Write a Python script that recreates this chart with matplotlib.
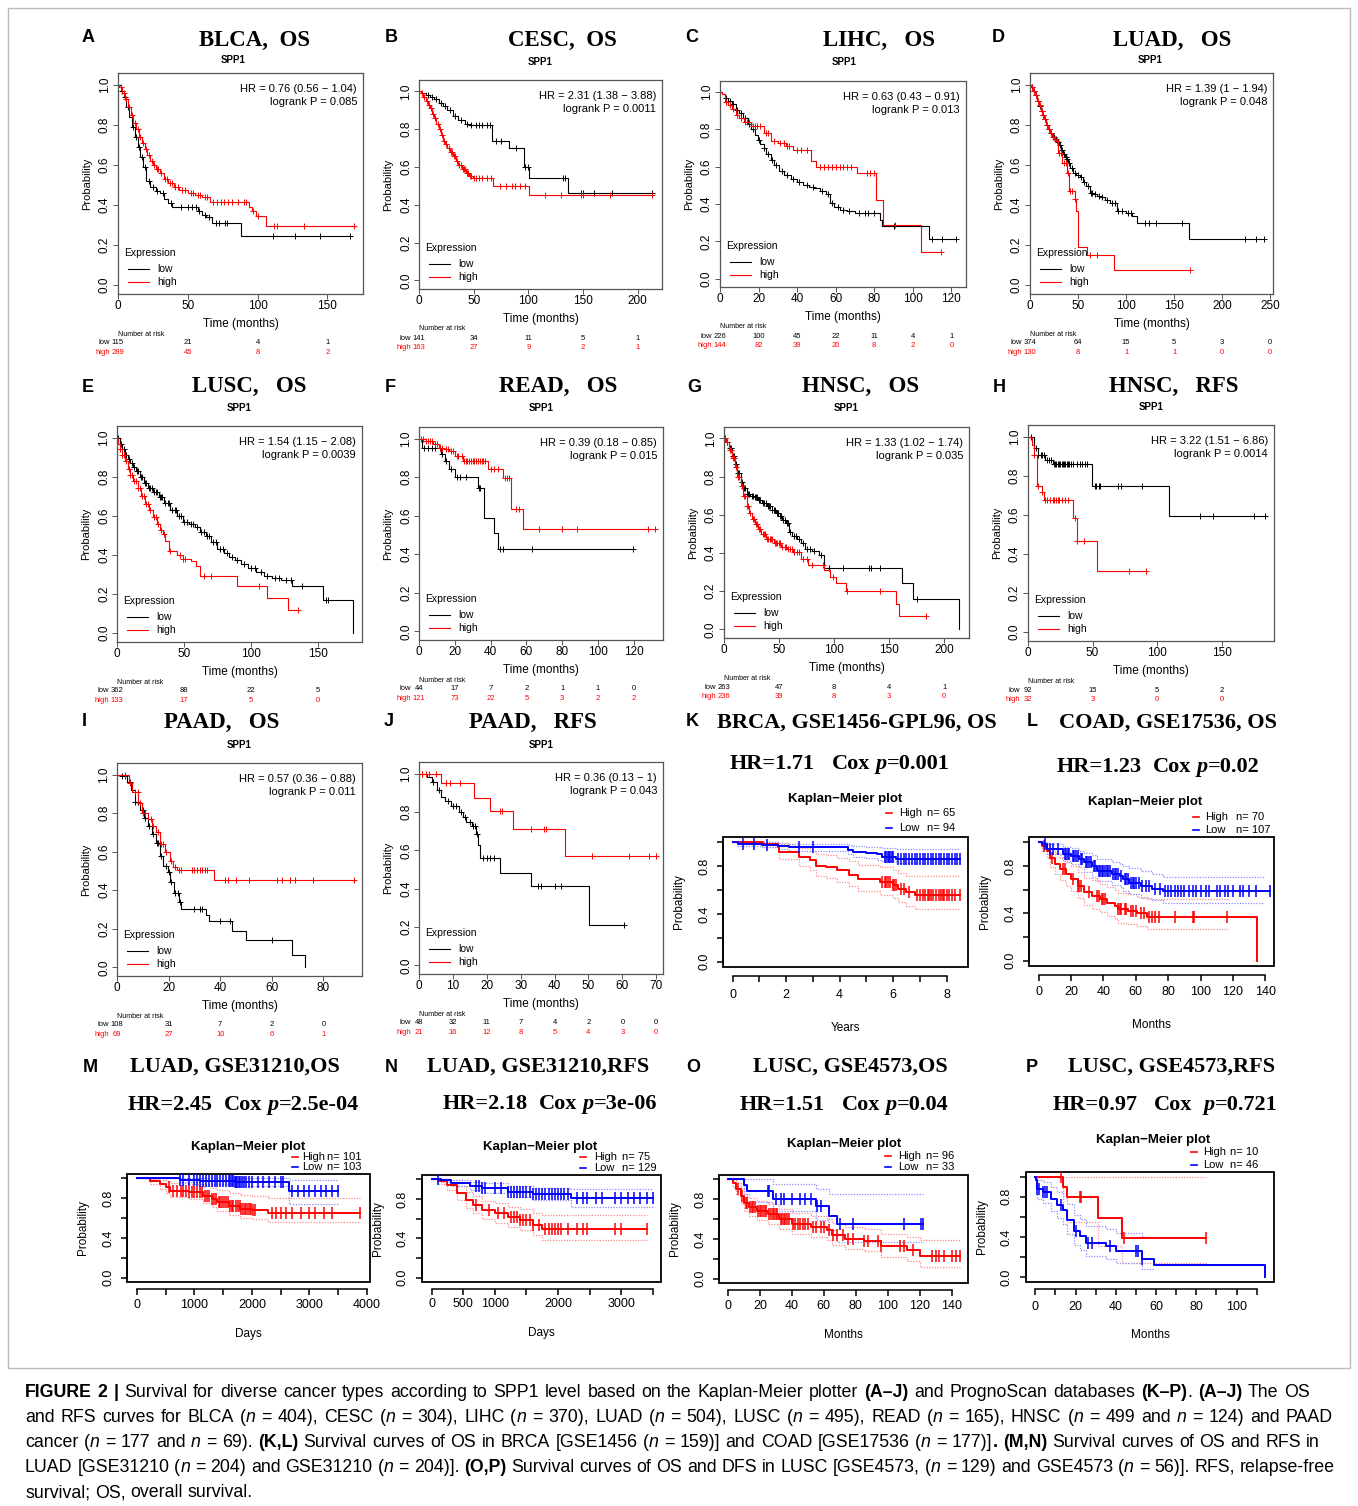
import re
import numpy as np
import matplotlib
matplotlib.use("Agg")
import matplotlib.pyplot as plt
from matplotlib.lines import Line2D
from matplotlib.patches import Rectangle

W, H = 1358, 1506
SANS = ["Liberation Sans", "DejaVu Sans"]
SERIF = ["Liberation Serif", "DejaVu Serif"]
RED, BLUE = "#ff0000", "#0000ff"

# ---------------- KM plotter panels (A-J) ----------------
# step times (months), survival after each step, end of follow-up, censored times
a_low_t = [2, 4, 6, 8, 10, 12, 14, 16, 18, 20, 23, 27, 30, 33, 36, 39, 57, 60, 63, 67, 88]
a_low_s = [.97, .94, .89, .84, .79, .74, .69, .64, .59, .52, .49, .47, .46, .43, .41, .39, .37, .35, .34, .31, .245]
a_low_end = 166
a_low_cens = [3, 5, 7, 11, 13, 15, 17, 19, 22, 25, 28, 32, 38, 45, 50, 53, 56, 58, 62, 65, 70, 72, 77, 78, 111, 127, 145, 166]
a_high_t = [1, 3, 5, 7, 9, 11, 13, 15, 17, 19, 21, 23, 25, 27, 30, 33, 36, 40, 44, 50, 55, 60, 66, 94, 96, 99, 106]
a_high_s = [.99, .96, .93, .89, .85, .81, .78, .74, .71, .68, .65, .62, .60, .58, .56, .53, .51, .49, .475, .46, .45, .44, .415, .39, .37, .345, .295]
a_high_end = 169
a_high_cens = [2, 4, 6, 8, 10, 12, 14, 16, 18, 20, 22, 24, 26, 28, 29, 31, 34, 35, 37, 39, 41, 43, 46, 48, 52, 54, 57, 59,
               62, 64, 68, 71, 74, 76, 79, 82, 86, 90, 92, 97, 100, 112, 114, 133, 169]
a_ticks = [0, 50, 100, 150]
a_risk_low = [115, 21, 4, 1]
a_risk_high = [289, 45, 8, 2]
a_hr = ["HR = 0.76 (0.56 \u2212 1.04)", "logrank P = 0.085"]

b_low_t = [3, 6, 10, 14, 18, 22, 26, 31, 36, 42, 47, 66.5, 82.5, 96, 101, 136.6]
b_low_s = [.99, .98, .97, .96, .94, .92, .90, .87, .85, .83, .82, .74, .70, .60, .54, .465]
b_low_end = 215
b_low_cens = [8, 12, 16, 20, 24, 28, 33, 38, 44, 48, 52, 55, 58, 62, 65, 70, 75, 89, 97, 100, 132, 134, 148, 150, 160, 177, 213]
b_high_t = [2, 4, 6, 8, 10, 12, 14, 16, 18, 20, 22, 24, 26, 28, 31, 34, 36, 39, 43, 46, 49, 68, 101]
b_high_s = [.99, .97, .95, .93, .91, .88, .86, .83, .80, .77, .74, .72, .70, .68, .66, .63, .61, .59, .57, .555, .54, .50, .45]
b_high_end = 213
b_high_cens = [3, 5, 7, 9, 11, 13, 15, 17, 19, 21, 23, 25, 27, 29, 30, 32, 33, 35, 37, 38, 40, 41, 42, 44, 45, 47, 48,
               50, 52, 55, 58, 62, 66, 74, 80, 85, 88, 92, 97, 115, 130, 148, 150, 175, 213]
b_ticks = [0, 50, 100, 150, 200]
b_risk_low = [141, 34, 11, 5, 1]
b_risk_high = [163, 27, 9, 2, 1]
b_hr = ["HR = 2.31 (1.38 \u2212 3.88)", "logrank P = 0.0011"]

c_low_t = [1, 2.4, 4, 6, 8.5, 10, 12, 14.5, 16, 18, 19.6, 21, 22.6, 24, 26.7, 28, 30.7, 33, 36.8, 40, 43, 46, 49, 52,
           55, 57, 59, 62, 66, 70, 83, 84, 108.5]
c_low_s = [.99, .97, .955, .935, .906, .89, .86, .83, .80, .77, .745, .72, .70, .67, .635, .61, .575, .555, .535, .52,
           .50, .49, .485, .47, .455, .405, .385, .37, .36, .35, .315, .28, .21]
c_low_end = 122.6
c_low_cens = [3, 5, 7, 9, 11, 13, 15, 17, 20, 23, 25, 27, 29, 32, 35, 38, 41, 45, 48, 53, 56, 58, 61, 64, 67, 72, 75, 77,
              80, 90, 110, 115, 122.6]
c_high_t = [1, 2.4, 4, 6, 8.5, 10, 12.5, 16, 22.6, 26.7, 30, 34, 37.8, 47, 50, 71, 81, 84.6, 104.4]
c_high_s = [.99, .95, .93, .91, .88, .86, .84, .82, .78, .74, .73, .71, .69, .63, .60, .565, .42, .285, .143]
c_high_end = 114.5
c_high_cens = [3, 5, 7, 9, 11, 13, 14, 15, 17, 18, 19, 21, 24, 25, 28, 31, 33, 35, 36, 40, 42, 45, 52, 54, 56, 58, 60,
               62, 64, 66, 68, 76, 78, 80, 91, 114.5]
c_ticks = [0, 20, 40, 60, 80, 100, 120]
c_risk_low = [226, 100, 45, 22, 11, 4, 1]
c_risk_high = [144, 82, 39, 20, 8, 2, 0]
c_hr = ["HR = 0.63 (0.43 \u2212 0.91)", "logrank P = 0.013"]

d_low_t = [1, 3, 5, 7, 9, 11, 13, 15, 17, 19, 21, 24, 26, 28, 30, 32, 34, 36, 38, 40, 42, 45, 48, 52, 55, 58, 62.5,
           66, 70, 73, 78, 83, 90, 100, 106, 111, 165]
d_low_s = [.99, .97, .95, .92, .895, .87, .85, .83, .80, .78, .76, .74, .73, .715, .70, .675, .655, .64, .63, .61,
           .585, .56, .55, .54, .515, .495, .46, .455, .445, .44, .425, .41, .37, .36, .345, .31, .23]
d_low_end = 243
d_low_cens = [2, 4, 6, 8, 10, 12, 14, 16, 18, 20, 22, 25, 27, 29, 31, 33, 35, 37, 39, 41, 44, 47, 50, 53, 56, 60, 63,
              65, 68, 72, 75, 80, 85, 88, 92, 96, 102, 105, 120, 124, 131, 158, 224, 235, 243]
d_high_t = [1, 3, 5, 7, 9, 11, 13, 15, 17, 19, 21, 23, 25, 27, 29.5, 33, 38, 41, 46.5, 48, 50.3, 59, 87.5]
d_high_s = [.99, .97, .95, .92, .90, .87, .85, .83, .80, .78, .76, .74, .73, .72, .66, .61, .56, .47, .43, .37, .19,
            .15, .074]
d_high_end = 166.7
d_high_cens = [2, 4, 6, 8, 10, 12, 14, 16, 18, 20, 22, 24, 26, 28, 30, 32, 35, 37, 40, 42, 44, 47, 62, 70, 166.7]
d_ticks = [0, 50, 100, 150, 200, 250]
d_risk_low = [374, 64, 15, 5, 3, 0]
d_risk_high = [130, 8, 1, 1, 0, 0]
d_hr = ["HR = 1.39 (1 \u2212 1.94)", "logrank P = 0.048"]

e_low_t = [2, 4, 6, 8, 10, 12, 14, 17, 20, 23, 27, 31.5, 35, 40, 45, 49, 54, 58, 62, 66.5, 70, 75, 80, 84, 88, 93, 98,
           104, 110, 116, 123, 131, 154, 176.8]
e_low_s = [.97, .94, .91, .89, .87, .85, .83, .80, .77, .745, .72, .695, .665, .63, .60, .57, .56, .545, .52, .495,
           .465, .43, .41, .39, .375, .355, .335, .314, .295, .28, .27, .24, .17, 0]
e_low_end = 176.8
e_low_cens = [1, 3, 5, 7, 9, 11, 13, 15, 16, 18, 19, 21, 22, 24, 25, 26, 28, 29, 30, 32, 33, 34, 36, 38, 39, 41, 43, 44,
              46, 48, 50, 52, 55, 57, 60, 63, 65, 67, 69, 72, 74, 77, 79, 82, 86, 90, 95, 100, 103, 108, 112, 118,
              121, 126, 130, 138, 156, 158]
e_high_t = [1, 2, 3.8, 6, 8, 9.6, 12, 15.5, 18, 21, 24, 27, 30, 32, 34.4, 36, 38.8, 45, 49, 55, 59, 62, 89.5, 112, 128]
e_high_s = [.97, .94, .91, .88, .84, .81, .78, .745, .70, .66, .63, .595, .56, .53, .51, .47, .42, .40, .38, .37, .345,
            .294, .24, .18, .12]
e_high_end = 135
e_high_cens = [2, 4, 5, 7, 9, 10, 11, 13, 14, 16, 17, 19, 20, 22, 23, 25, 28, 29, 31, 33, 35, 40, 47, 49, 51, 65, 70,
               106, 135]
e_ticks = [0, 50, 100, 150]
e_risk_low = [362, 88, 22, 5]
e_risk_high = [133, 17, 5, 0]
e_hr = ["HR = 1.54 (1.15 \u2212 2.08)", "logrank P = 0.0039"]

f_low_t = [1.5, 12.4, 14.6, 16.7, 20, 33, 36.3, 41.7, 44]
f_low_s = [.95, .92, .886, .844, .80, .743, .59, .51, .425]
f_low_end = 119.6
f_low_cens = [3, 5, 7, 9, 12, 13, 15, 18, 21, 23, 26, 33.5, 34, 45, 47, 63, 119.6]
f_high_t = [3.7, 8, 11.3, 14, 16.7, 20, 24.3, 38.5, 47.2, 51.5, 58]
f_high_s = [.987, .97, .953, .945, .936, .91, .886, .844, .794, .635, .53]
f_high_end = 132
f_high_cens = [1, 2, 4, 5, 6, 7, 9, 10, 12, 13, 15, 16, 18, 19, 21, 22, 24, 25, 26, 27, 28, 29, 30, 31, 32, 33, 34, 35,
               36, 37, 40, 42, 44, 48, 49, 50, 54, 56, 67, 80, 88, 128, 132]
f_ticks = [0, 20, 40, 60, 80, 100, 120]
f_risk_low = [44, 17, 7, 2, 1, 1, 0]
f_risk_high = [121, 73, 22, 5, 3, 2, 2]
f_hr = ["HR = 0.39 (0.18 \u2212 0.85)", "logrank P = 0.015"]

g_low_t = [2, 4.6, 7, 10, 12, 15, 17, 20.5, 24, 27.5, 31, 34.6, 39, 43.5, 47, 50.5, 53, 56, 59, 62, 66.4, 70, 73.5,
           80, 86, 91, 161.8, 172, 213.8]
g_low_s = [.98, .95, .91, .867, .82, .77, .74, .71, .70, .695, .68, .66, .645, .627, .61, .593, .575, .559, .508, .49,
           .474, .45, .422, .41, .388, .32, .243, .157, 0]
g_low_end = 213.8
g_low_cens = [1, 3, 5, 6, 8, 9, 11, 13, 14, 16, 18, 19, 21, 22, 23, 25, 26, 28, 29, 30, 32, 33, 35, 36, 38, 40, 41, 42,
              44, 45, 46, 48, 49, 51, 52, 54, 55, 57, 58, 60, 64, 65, 68, 72, 75, 78, 82, 88, 95, 108, 132, 134, 142,
              175]
g_high_t = [2, 4.6, 7, 10, 12, 15, 17, 20.5, 23, 25.8, 28, 31, 34, 38, 45, 52, 57, 63, 70, 76.7, 91, 96.5, 102, 110.6,
            156.6, 159.4]
g_high_s = [.98, .94, .90, .85, .80, .75, .70, .644, .61, .576, .55, .525, .50, .474, .45, .43, .42, .405, .371, .337,
            .311, .277, .243, .20, .132, .068]
g_high_end = 183.7
g_high_cens = [1, 3, 5, 6, 8, 9, 11, 13, 14, 16, 18, 19, 21, 22, 24, 26, 27, 29, 30, 32, 33, 35, 36, 37, 39, 40, 42, 43,
               44, 46, 47, 48, 50, 51, 53, 55, 56, 58, 60, 62, 64, 66, 68, 72, 75, 80, 90, 99, 112, 142, 183.7]
g_ticks = [0, 50, 100, 150, 200]
g_risk_low = [263, 47, 8, 4, 1]
g_risk_high = [236, 39, 8, 3, 0]
g_hr = ["HR = 1.33 (1.02 \u2212 1.74)", "logrank P = 0.035"]

h_low_t = [4.5, 7.5, 13.5, 19.6, 49.7, 109.3]
h_low_s = [.94, .905, .883, .858, .747, .597]
h_low_end = 183.7
h_low_cens = [2, 6, 8, 10, 11, 12, 15, 16, 18, 20, 21, 22, 23, 24, 25, 26, 27, 28, 29, 30, 31, 32, 33, 35, 38, 40, 42,
              44, 46, 52, 53, 55, 56, 70, 72, 88, 133, 143, 175, 183.7]
h_high_t = [3, 4.5, 6.9, 10.5, 12, 35, 37.6, 53.3]
h_high_s = [.958, .908, .75, .717, .678, .583, .467, .312]
h_high_end = 91
h_high_cens = [5, 8, 11, 13, 15, 17, 19, 20, 22, 23, 24, 26, 29, 31, 36, 38, 43, 78, 91]
h_ticks = [0, 50, 100, 150]
h_risk_low = [92, 15, 5, 2]
h_risk_high = [32, 3, 0, 0]
h_hr = ["HR = 3.22 (1.51 \u2212 6.86)", "logrank P = 0.0014"]

i_low_t = [1.5, 3.8, 5.3, 6.8, 9, 10.6, 12, 13.6, 15, 16.6, 18, 19.6, 20.4, 22, 24, 25, 34.7, 35.5, 44.5, 50, 68, 73]
i_low_s = [.99, .963, .92, .86, .818, .775, .733, .69, .647, .579, .528, .494, .443, .383, .34, .30, .273, .24, .187,
           .14, .065, 0]
i_low_end = 73
i_low_cens = [2, 3, 5, 7, 8, 10, 11, 12.5, 14, 15.5, 16, 17, 19, 20, 21, 22.5, 23.5, 24.5, 30, 32, 33, 40, 44, 60]
i_high_t = [4.5, 6, 8.3, 9.8, 12, 13.6, 15, 16.6, 18.8, 20.4, 21.9, 23.4, 37.7]
i_high_s = [.954, .91, .85, .80, .767, .733, .70, .64, .596, .554, .52, .503, .455]
i_high_end = 92
i_high_cens = [3, 5, 7, 8, 9, 10, 11, 13, 14, 16, 17, 18, 19, 21, 22.5, 24, 25, 29, 30, 31, 32, 33, 34, 35, 42, 43, 46,
               51, 62, 64, 67, 69, 76, 92]
i_ticks = [0, 20, 40, 60, 80]
i_risk_low = [108, 31, 7, 2, 0]
i_risk_high = [69, 27, 10, 6, 1]
i_hr = ["HR = 0.57 (0.36 \u2212 0.88)", "logrank P = 0.011"]

j_low_t = [2.5, 3.7, 5.4, 6.6, 7.7, 9.4, 11.7, 12.9, 14, 15.7, 16.9, 17.5, 18, 23.8, 33, 50.2]
j_low_s = [.983, .958, .915, .88, .856, .83, .797, .771, .746, .725, .686, .627, .56, .483, .415, .208]
j_low_end = 60.6
j_low_cens = [1, 4, 6, 8.5, 10, 11, 12.5, 13.5, 15, 16, 16.5, 17, 19, 20, 21, 22, 35, 36, 40, 42, 60.6]
j_high_t = [6.6, 16.3, 20.9, 27.8, 43]
j_high_s = [.95, .873, .805, .712, .571]
j_high_end = 69.8
j_high_cens = [1, 2, 3, 5, 8, 9, 12, 24, 24.5, 33, 37, 37.5, 51, 62, 68, 69.8]
j_ticks = [0, 10, 20, 30, 40, 50, 60, 70]
j_risk_low = [48, 32, 11, 7, 4, 2, 0, 0]
j_risk_high = [21, 16, 12, 8, 5, 4, 3, 0]
j_hr = ["HR = 0.36 (0.13 \u2212 1)", "logrank P = 0.043"]

# ---------------- PrognoScan panels (K-P) ----------------
k_high_t = [1.15, 1.7, 1.75, 2.5, 2.9, 3.1, 3.5, 3.9, 4.35, 4.7, 5.5, 6.0, 6.2, 6.5, 6.8]
k_high_s = [.987, .96, .92, .876, .85, .806, .793, .765, .73, .695, .667, .64, .61, .58, .56]
k_high_up = [1.0, 1.0, .985, .95, .93, .90, .89, .865, .84, .81, .79, .77, .74, .72, .715]
k_high_lo = [.96, .92, .86, .80, .77, .72, .70, .67, .63, .59, .56, .53, .50, .47, .44]
k_high_end = 8.5
k_high_cens = [5.6, 5.7, 5.75, 5.8, 5.9, 6.0, 6.05, 6.1, 6.3, 6.4, 6.6, 6.9, 7.0, 7.1, 7.2, 7.3, 7.35, 7.4, 7.5, 7.6,
               7.7, 7.8, 7.85, 7.9, 8.0, 8.1, 8.2, 8.3, 8.5]
k_low_t = [0.2, 1.1, 1.7, 2.1, 4.3, 4.5, 5.0, 5.4, 5.6, 6.1]
k_low_s = [.99, .98, .97, .957, .94, .92, .91, .90, .876, .86]
k_low_up = [1.0, 1.0, .995, .99, .98, .97, .965, .96, .95, .945]
k_low_lo = [.97, .96, .945, .925, .905, .88, .865, .855, .84, .83]
k_low_end = 8.5
k_low_cens = [0.4, 0.8, 1.3, 2.5, 3.0, 5.7, 5.75, 5.8, 5.85, 5.9, 5.95, 6.0, 6.2, 6.3, 6.4, 6.5, 6.6, 6.7, 6.8, 6.9,
              7.0, 7.1, 7.2, 7.3, 7.4, 7.5, 7.6, 7.7, 7.8, 7.9, 8.0, 8.1, 8.2, 8.3, 8.4, 8.5]
k_n = [65, 94]

l_high_t = [2, 5, 7, 10, 13, 17, 20, 24, 28, 33, 38, 42, 47, 49, 55, 61, 67, 134.5]
l_high_s = [.97, .93, .87, .82, .775, .73, .69, .634, .577, .55, .52, .49, .465, .437, .423, .40, .372, 0]
l_high_up = [1.0, .99, .95, .91, .87, .83, .80, .75, .70, .68, .65, .62, .60, .57, .56, .54, .52, .52]
l_high_lo = [.93, .87, .79, .73, .68, .63, .59, .53, .47, .44, .41, .38, .35, .32, .31, .29, .27, .27]
l_high_end = 134.5
l_high_cens = [3, 8, 15, 16, 21, 24, 25, 26, 31, 36, 37, 39, 40, 41, 49, 50, 51, 53, 54, 57, 58, 60, 63, 65, 68, 70,
               72, 74, 84, 95, 96, 116]
l_low_t = [2, 5, 15, 20, 25, 28, 33, 36, 45, 50, 52, 56, 63, 70, 77]
l_low_s = [.985, .944, .90, .887, .86, .83, .80, .76, .73, .718, .69, .66, .634, .605, .586]
l_low_up = [1.0, .99, .96, .95, .93, .91, .89, .86, .83, .82, .80, .78, .76, .73, .71]
l_low_lo = [.96, .90, .84, .82, .79, .75, .71, .67, .64, .62, .59, .56, .53, .51, .49]
l_low_end = 143
l_low_cens = [4, 7, 9, 12, 16, 17, 18, 19, 21, 22, 23, 24, 26, 27, 29, 30, 31, 32, 34, 35, 37, 38, 39, 40, 41, 42, 43,
              44, 46, 47, 48, 49, 51, 53, 54, 55, 57, 58, 59, 60, 62, 64, 66, 68, 72, 75, 78, 80, 82, 84, 86, 88, 90,
              93, 95, 97, 100, 103, 105, 110, 112, 115, 117, 120, 124, 126, 130, 134, 143]
l_n = [70, 107]

m_high_t = [230, 400, 500, 580, 900, 1150, 1300, 1400, 1600, 1800, 2000, 2280]
m_high_s = [.97, .943, .91, .877, .86, .827, .793, .76, .727, .693, .683, .653]
m_high_up = [.995, .985, .97, .955, .94, .92, .90, .88, .855, .83, .82, .80]
m_high_lo = [.94, .89, .85, .81, .79, .75, .71, .67, .63, .60, .59, .56]
m_high_end = 3880
m_high_cens = [560, 620, 700, 760, 800, 850, 900, 950, 1000, 1050, 1100, 1130, 1180, 1220, 1260, 1300, 1340, 1380, 1420,
               1450, 1480, 1520, 1550, 1580, 1620, 1650, 1680, 1720, 1760, 1790, 1820, 1850, 1880, 1900, 1930, 1960,
               1990, 2020, 2050, 2350, 2420, 2500, 2600, 2700, 2850, 3000, 3100, 3250, 3400, 3880]
m_low_t = [750, 1100, 1700, 2650]
m_low_s = [.987, .977, .96, .877]
m_low_up = [1.0, 1.0, 1.0, .98]
m_low_lo = [.96, .945, .92, .74]
m_low_end = 3500
m_low_cens = [750, 800, 900, 1000, 1050, 1100, 1150, 1200, 1250, 1300, 1350, 1400, 1450, 1500, 1550, 1600, 1620, 1650,
              1680, 1700, 1720, 1750, 1780, 1800, 1830, 1860, 1900, 1950, 2000, 2100, 2200, 2300, 2400, 2500, 2550,
              2700, 2800, 2900, 3000, 3100, 3200, 3300, 3400, 3500]
m_n = [101, 103]

n_high_t = [100, 250, 400, 550, 650, 800, 1000, 1200, 1400, 1600, 1750]
n_high_s = [.98, .94, .86, .79, .74, .69, .66, .62, .59, .54, .50]
n_high_up = [1.0, .99, .93, .87, .83, .78, .76, .72, .70, .66, .64]
n_high_lo = [.95, .89, .79, .71, .66, .60, .56, .52, .48, .43, .38]
n_high_end = 3400
n_high_cens = [700, 900, 1050, 1150, 1250, 1300, 1350, 1400, 1450, 1500, 1550, 1600, 1700, 1800, 1850, 1900, 1950, 2000,
               2050, 2150, 2300, 2400, 2450, 2900, 3000, 3400]
n_low_t = [150, 300, 600, 800, 1200, 1600, 2200]
n_low_s = [.99, .96, .93, .91, .87, .85, .81]
n_low_up = [1.0, .99, .97, .96, .93, .91, .90]
n_low_lo = [.97, .93, .89, .86, .82, .79, .72]
n_low_end = 3500
n_low_cens = [100, 700, 750, 800, 850, 1000, 1100, 1200, 1250, 1300, 1350, 1400, 1450, 1500, 1550, 1600, 1650, 1700,
              1750, 1800, 1850, 1900, 1950, 2000, 2050, 2100, 2150, 2300, 2400, 2450, 2600, 2700, 2900, 3000, 3100,
              3200, 3300, 3400, 3500]
n_n = [75, 129]

o_high_t = [3, 5, 8, 10, 13, 18, 25, 32, 40, 52, 62, 65, 73, 85, 96, 112, 120]
o_high_s = [.96, .90, .83, .765, .717, .684, .65, .60, .55, .52, .49, .44, .40, .38, .326, .29, .228]
o_high_up = [1.0, .96, .91, .85, .81, .78, .75, .70, .66, .63, .60, .56, .52, .50, .45, .42, .39]
o_high_lo = [.92, .84, .75, .68, .63, .59, .55, .50, .45, .42, .39, .34, .30, .28, .22, .18, .12]
o_high_end = 145
o_high_cens = [6, 9, 11, 12, 14, 15, 16, 17, 19, 20, 21, 22, 23, 24, 26, 27, 28, 29, 30, 31, 33, 34, 35, 36, 37, 38, 41,
               42, 44, 45, 47, 48, 50, 53, 55, 58, 60, 63, 66, 68, 72, 75, 78, 85, 88, 94, 96, 108, 110, 116, 128, 130,
               132, 135, 140, 143, 145]
o_low_t = [10, 12, 28, 55, 63, 68]
o_low_s = [.94, .88, .80, .73, .635, .554]
o_low_up = [1.0, 1.0, .95, .90, .85, .85]
o_low_lo = [.85, .77, .68, .59, .49, .37]
o_low_end = 122
o_low_cens = [25, 26, 30, 33, 35, 40, 45, 48, 52, 56, 58, 70, 78, 110, 121, 122]
o_n = [96, 33]

p_high_t = [14, 16, 31, 43]
p_high_s = [.896, .80, .587, .39]
p_high_up = [1.0, 1.0, 1.0, 1.0]
p_high_lo = [.67, .55, .31, .14]
p_high_end = 85
p_high_cens = [13, 22, 22.5, 44, 85]
p_low_t = [0.5, 1, 4, 8, 11, 14, 16, 19, 22, 25, 35, 40, 53, 59, 114]
p_low_s = [.97, .88, .847, .78, .717, .668, .57, .456, .407, .342, .31, .26, .18, .12, 0]
p_low_up = [1.0, .97, .95, .90, .85, .81, .73, .62, .58, .51, .48, .44, .40, .38, .38]
p_low_lo = [.92, .78, .74, .66, .59, .53, .43, .32, .27, .21, .18, .14, .08, .04, .04]
p_low_end = 114
p_low_cens = [1, 2, 4, 5, 6, 13, 20, 26, 28, 37, 50, 51, 53]
p_n = [10, 46]

caption = [
    "**FIGURE 2 |** Survival for diverse cancer types according to SPP1 level based on the Kaplan-Meier plotter "
    "**(A\u2013J)** and PrognoScan databases **(K\u2013P)**. **(A\u2013J)** The OS",
    "and RFS curves for BLCA (_n_ = 404), CESC (_n_ = 304), LIHC (_n_ = 370), LUAD (_n_ = 504), LUSC (_n_ = 495), "
    "READ (_n_ = 165), HNSC (_n_ = 499 and _n_ = 124) and PAAD",
    "cancer (_n_ = 177 and _n_ = 69). **(K,L)** Survival curves of OS in BRCA [GSE1456 (_n_ = 159)] and COAD "
    "[GSE17536 (_n_ = 177)]**. (M,N)** Survival curves of OS and RFS in",
    "LUAD [GSE31210 (_n_ = 204) and GSE31210 (_n_ = 204)]. **(O,P)** Survival curves of OS and DFS in LUSC "
    "[GSE4573, (_n_ = 129) and GSE4573 (_n_ = 56)]. RFS, relapse-free",
    "survival; OS, overall survival.",
]
caption_widths = [1285, 1308, 1295, 1310, None]

# ---------------------------------------------------------------
fig = plt.figure(figsize=(W / 100, H / 100), dpi=100)
fig.patch.set_facecolor("white")
renderer = fig.canvas.get_renderer()


def fx(x):
    return x / W


def fy(y):
    return 1 - y / H


def add_box(l, t, r, b):
    return fig.add_axes([l / W, 1 - b / H, (r - l) / W, (b - t) / H])


def ftext(x, y, s, **kw):
    kw.setdefault("va", "center")
    kw.setdefault("ha", "center")
    return fig.text(fx(x), fy(y), s, **kw)


def step_xy(t, s, end):
    return [0] + list(t) + [end], [1.0] + list(s) + [s[-1]]


def surv_at(t, s, x):
    idx = np.searchsorted(np.asarray(t), np.asarray(x), side="right")
    vals = np.concatenate([[1.0], np.asarray(s, float)])
    return vals[idx]


def text_w(s, **kw):
    a = fig.text(0, 0, "|" + s + "|", **kw)
    b = fig.text(0, 0, "||", **kw)
    w = a.get_window_extent(renderer).width - b.get_window_extent(renderer).width
    a.remove()
    b.remove()
    return w


def rich(x, y, markup, size, family, weight="normal", ha="left", width=None):
    toks = []
    for seg in re.split(r"(\*\*.+?\*\*|_.+?_)", markup):
        if not seg:
            continue
        if seg.startswith("**"):
            s, w, st = seg[2:-2], "bold", "normal"
        elif seg.startswith("_") and seg.endswith("_"):
            s, w, st = seg[1:-1], weight, "italic"
        else:
            s, w, st = seg, weight, "normal"
        for part in re.split(r"( )", s):
            if part:
                toks.append((part, w, st))
    widths = [text_w(s, size=size, family=family, weight=w, style=st) for s, w, st in toks]
    natural = sum(widths)
    nsp = sum(1 for s, _, _ in toks if s == " ")
    extra = (width - natural) / nsp if (width and nsp) else 0
    x0 = x - natural / 2 if ha == "center" else x
    for (s, w, st), wd in zip(toks, widths):
        if s == " ":
            x0 += wd + extra
            continue
        fig.text(fx(x0), fy(y), s, size=size, family=family, weight=w, style=st, ha="left", va="baseline")
        x0 += wd


def kmp_panel(p):
    l, t, r, b = p["box"]
    bw, bh = r - l, b - t
    ax = add_box(l, t, r, b)
    ax.set_xlim(0, p["xmax"])
    ax.set_ylim(-0.045, 1.06)
    for (tt, ss, end, cens), col in [(p["low"], "black"), (p["high"], RED)]:
        xs, ys = step_xy(tt, ss, end)
        ax.plot(xs, ys, drawstyle="steps-post", color=col, lw=0.8)
        ax.plot(cens, surv_at(tt, ss, cens), "+", color=col, ms=4.5, mew=0.7)
    for sp in ax.spines.values():
        sp.set_color("#555555")
        sp.set_linewidth(0.9)
    ax.set_xticks(p["ticks"])
    ax.set_yticks(np.arange(0, 1.01, 0.2))
    ax.tick_params(length=3.5, width=0.7, color="#555555", labelbottom=False, labelleft=False)
    for xv in p["ticks"]:
        ax.text(xv, -12 / bh, str(xv), transform=ax.get_xaxis_transform(), ha="center", va="center",
                size=8.5, family=SANS)
    for yv in np.arange(0, 1.01, 0.2):
        ax.text(-13 / bw, yv, f"{yv:.1f}", transform=ax.get_yaxis_transform(), rotation=90,
                ha="center", va="center", size=8.5, family=SANS)
    ftext(l - 31, (t + b) / 2, "Probability", rotation=90, size=8, family=SANS)
    ftext((l + r) / 2, b + 30, "Time (months)", size=8.5, family=SANS)
    ftext(r - 6, t + 16, p["hr"][0], ha="right", size=8, family=SANS)
    ftext(r - 6, t + 29, p["hr"][1], ha="right", size=8, family=SANS)
    # legend
    ftext(l + 6, b - 41, "Expression", ha="left", size=7.5, family=SANS)
    for dy, lab, col in [(25, "low", "black"), (12, "high", RED)]:
        fig.add_artist(Line2D([fx(l + 10), fx(l + 31)], [fy(b - dy)] * 2, color=col, lw=0.8))
        ftext(l + 39, b - dy, lab, ha="left", size=7.5, family=SANS)
    # number at risk
    ftext(l, b + 40, "Number at risk", ha="left", size=5, family=SANS)
    for dy, lab, vals, col in [(49, "low", p["risk"][0], "black"), (58.5, "high", p["risk"][1], RED)]:
        ftext(l - 8, b + dy, lab, ha="right", size=5.5, family=SANS, color=col)
        for xv, v in zip(p["ticks"], vals):
            ftext(l + xv / p["xmax"] * bw, b + dy, str(v), size=5.5, family=SANS, color=col)
    ftext(*p["letter_xy"], p["letter"], size=13, weight="bold", family=SANS)
    ftext(*p["title_xy"], p["title"], size=16.5, weight="bold", family=SERIF)
    ftext(*p["spp1_xy"], "SPP1", size=7, weight="bold", family=SANS)


def ps_panel(p):
    l, t, r, b = p["box"]
    bw, bh = r - l, b - t
    ax = add_box(l, t, r, b)
    ax.set_xlim(*p["xlim"])
    ax.set_ylim(-0.045, 1.045)
    for (tt, ss, end, cens, up, lo, bend), light in [(p["high"], "#ff8c8c"), (p["low"], "#8c8cff")]:
        keep = [i for i, x in enumerate(tt) if x < bend]
        for band in (up, lo):
            xs, ys = step_xy([tt[i] for i in keep], [band[i] for i in keep], bend)
            ax.plot(xs, ys, drawstyle="steps-post", color=light, lw=0.9, ls=(0, (1, 1.2)))
    for (tt, ss, end, cens, up, lo, bend), col in [(p["high"], RED), (p["low"], BLUE)]:
        xs, ys = step_xy(tt, ss, end)
        ax.plot(xs, ys, drawstyle="steps-post", color=col, lw=1.4)
        ax.plot(cens, surv_at(tt, ss, cens), "|", color=col, ms=8, mew=1.1)
    for k in ("top", "right"):
        ax.spines[k].set_visible(False)
    ax.spines["left"].set_bounds(0, 1)
    ax.spines["bottom"].set_position(("outward", p["axoff"] * 0.72))
    ax.spines["bottom"].set_bounds(p["ticks"][0], p["ticks"][-1])
    for sp in ("left", "bottom"):
        ax.spines[sp].set_linewidth(1.1)
    ax.add_patch(Rectangle((0, 0), 1, 1, transform=ax.transAxes, fill=False, lw=1.3, ec="black", clip_on=False))
    ax.set_xticks(p["ticks"])
    ax.set_yticks(np.arange(0, 1.01, 0.2))
    ax.tick_params(length=4, width=1.1, labelbottom=False, labelleft=False)
    for xv in p["labels"]:
        ax.text(xv, -p["lab_off"] / bh, str(xv), transform=ax.get_xaxis_transform(), ha="center",
                va="center", size=9, family=SANS)
    for yv in (0.0, 0.4, 0.8):
        ax.text(-19 / bw, yv, f"{yv:.1f}", transform=ax.get_yaxis_transform(), rotation=90,
                ha="center", va="center", size=9, family=SANS)
    ftext(l - 44, (t + b) / 2, "Probability", rotation=90, size=8.5, family=SANS)
    ftext((l + r) / 2, b + p["xl_off"], p["xlabel"], size=8.5, family=SANS)
    ftext(*p["km_xy"], "Kaplan\u2212Meier plot", size=9.5, weight="bold", family=SANS)
    dash_x, high_x, n_x = p["leg_x"]
    for y, lab, n, col in [(p["leg_y"][0], "High", p["n"][0], RED), (p["leg_y"][1], "Low", p["n"][1], BLUE)]:
        fig.add_artist(Line2D([fx(dash_x - 3), fx(dash_x + 3)], [fy(y)] * 2, color=col, lw=1.2))
        ftext(high_x, y, lab, ha="left", size=8, family=SANS)
        ftext(n_x, y, f"n= {n}", ha="left", size=8, family=SANS)
    ftext(*p["letter_xy"], p["letter"], size=13, weight="bold", family=SANS)
    ftext(*p["title_xy"], p["title"], size=16, weight="bold", family=SERIF)
    rich(p["hr_xy"][0], p["hr_xy"][1] + 7, p["hr"], 16, SERIF, weight="bold", ha="center")


kmp_panels = [
    dict(letter="A", title="BLCA,  OS", box=(118, 73, 363, 294), letter_xy=(88, 38), title_xy=(255, 40),
         spp1_xy=(233, 60), xmax=175.5, ticks=a_ticks, hr=a_hr, risk=(a_risk_low, a_risk_high),
         low=(a_low_t, a_low_s, a_low_end, a_low_cens), high=(a_high_t, a_high_s, a_high_end, a_high_cens)),
    dict(letter="B", title="CESC,  OS", box=(419, 80, 662, 289), letter_xy=(391, 38), title_xy=(562, 40),
         spp1_xy=(540, 62), xmax=222.3, ticks=b_ticks, hr=b_hr, risk=(b_risk_low, b_risk_high),
         low=(b_low_t, b_low_s, b_low_end, b_low_cens), high=(b_high_t, b_high_s, b_high_end, b_high_cens)),
    dict(letter="C", title="LIHC,   OS", box=(720, 81, 966, 287), letter_xy=(692, 38), title_xy=(879, 40),
         spp1_xy=(844, 62), xmax=127.6, ticks=c_ticks, hr=c_hr, risk=(c_risk_low, c_risk_high),
         low=(c_low_t, c_low_s, c_low_end, c_low_cens), high=(c_high_t, c_high_s, c_high_end, c_high_cens)),
    dict(letter="D", title="LUAD,   OS", box=(1030, 73, 1273, 294), letter_xy=(998, 38), title_xy=(1172, 40),
         spp1_xy=(1150, 60), xmax=252.8, ticks=d_ticks, hr=d_hr, risk=(d_risk_low, d_risk_high),
         low=(d_low_t, d_low_s, d_low_end, d_low_cens), high=(d_high_t, d_high_s, d_high_end, d_high_cens)),
    dict(letter="E", title="LUSC,   OS", box=(117, 426, 362, 642), letter_xy=(88, 387), title_xy=(249, 386),
         spp1_xy=(239, 408), xmax=183.2, ticks=e_ticks, hr=e_hr, risk=(e_risk_low, e_risk_high),
         low=(e_low_t, e_low_s, e_low_end, e_low_cens), high=(e_high_t, e_high_s, e_high_end, e_high_cens)),
    dict(letter="F", title="READ,   OS", box=(419, 427, 663, 640), letter_xy=(390, 387), title_xy=(558, 386),
         spp1_xy=(541, 408), xmax=136.3, ticks=f_ticks, hr=f_hr, risk=(f_risk_low, f_risk_high),
         low=(f_low_t, f_low_s, f_low_end, f_low_cens), high=(f_high_t, f_high_s, f_high_end, f_high_cens)),
    dict(letter="G", title="HNSC,   OS", box=(724, 427, 969, 638), letter_xy=(694, 387), title_xy=(861, 386),
         spp1_xy=(846, 408), xmax=222.6, ticks=g_ticks, hr=g_hr, risk=(g_risk_low, g_risk_high),
         low=(g_low_t, g_low_s, g_low_end, g_low_cens), high=(g_high_t, g_high_s, g_high_end, g_high_cens)),
    dict(letter="H", title="HNSC,   RFS", box=(1028, 425, 1274, 641), letter_xy=(999, 387), title_xy=(1174, 386),
         spp1_xy=(1151, 407), xmax=190.4, ticks=h_ticks, hr=h_hr, risk=(h_risk_low, h_risk_high),
         low=(h_low_t, h_low_s, h_low_end, h_low_cens), high=(h_high_t, h_high_s, h_high_end, h_high_cens)),
    dict(letter="I", title="PAAD,   OS", box=(117, 763, 362, 976), letter_xy=(84, 722), title_xy=(222, 722),
         spp1_xy=(239, 745), xmax=95, ticks=i_ticks, hr=i_hr, risk=(i_risk_low, i_risk_high),
         low=(i_low_t, i_low_s, i_low_end, i_low_cens), high=(i_high_t, i_high_s, i_high_end, i_high_cens)),
    dict(letter="J", title="PAAD,   RFS", box=(419, 762, 663, 974), letter_xy=(389, 722), title_xy=(533, 722),
         spp1_xy=(541, 745), xmax=72, ticks=j_ticks, hr=j_hr, risk=(j_risk_low, j_risk_high),
         low=(j_low_t, j_low_s, j_low_end, j_low_cens), high=(j_high_t, j_high_s, j_high_end, j_high_cens)),
]

ps_panels = [
    dict(letter="K", title="BRCA, GSE1456-GPL96, OS", hr="HR=1.71   Cox _p_=0.001", box=(723, 837, 968, 967),
         xlim=(-0.36, 8.8), ticks=list(range(0, 9)), labels=[0, 2, 4, 6, 8], xlabel="Years",
         axoff=9, lab_off=28, xl_off=61, letter_xy=(692, 722), title_xy=(857, 723), hr_xy=(840, 762),
         km_xy=(845, 799), leg_y=(813, 828), leg_x=(889, 899, 927), n=k_n,
         high=(k_high_t, k_high_s, k_high_end, k_high_cens, k_high_up, k_high_lo, k_high_end),
         low=(k_low_t, k_low_s, k_low_end, k_low_cens, k_low_up, k_low_lo, k_low_end)),
    dict(letter="L", title="COAD, GSE17536, OS", hr="HR=1.23  Cox _p_=0.02", box=(1029, 837, 1274, 966),
         xlim=(-6, 145.3), ticks=list(range(0, 141, 20)), labels=list(range(0, 141, 20)), xlabel="Months",
         axoff=9, lab_off=26, xl_off=59, letter_xy=(1032, 722), title_xy=(1168, 723), hr_xy=(1158, 765),
         km_xy=(1145, 802), leg_y=(817, 830), leg_x=(1196, 1205, 1236), n=l_n,
         high=(l_high_t, l_high_s, l_high_end, l_high_cens, l_high_up, l_high_lo, 117),
         low=(l_low_t, l_low_s, l_low_end, l_low_cens, l_low_up, l_low_lo, 139)),
    dict(letter="M", title="LUAD, GSE31210,OS", hr="HR=2.45  Cox _p_=2.5e-04", box=(127, 1174, 370, 1282),
         xlim=(-174, 4058), ticks=list(range(0, 4001, 500)), labels=[0, 1000, 2000, 3000, 4000], xlabel="Days",
         axoff=7, lab_off=23, xl_off=52, letter_xy=(90, 1068), title_xy=(235, 1067), hr_xy=(243, 1103),
         km_xy=(248, 1147), leg_y=(1157, 1167), leg_x=(295, 302, 327), n=m_n,
         high=(m_high_t, m_high_s, m_high_end, m_high_cens, m_high_up, m_high_lo, m_high_end),
         low=(m_low_t, m_low_s, m_low_end, m_low_cens, m_low_up, m_low_lo, m_low_end)),
    dict(letter="N", title="LUAD, GSE31210,RFS", hr="HR=2.18  Cox _p_=3e-06", box=(422, 1175, 661, 1282),
         xlim=(-153, 3628), ticks=list(range(0, 3501, 500)), labels=[0, 500, 1000, 2000, 3000], xlabel="Days",
         axoff=7, lab_off=22, xl_off=51, letter_xy=(391, 1068), title_xy=(538, 1067), hr_xy=(550, 1102),
         km_xy=(540, 1147), leg_y=(1157, 1168), leg_x=(583, 594, 622), n=n_n,
         high=(n_high_t, n_high_s, n_high_end, n_high_cens, n_high_up, n_high_lo, n_high_end),
         low=(n_low_t, n_low_s, n_low_end, n_low_cens, n_low_up, n_low_lo, n_low_end)),
    dict(letter="O", title="LUSC, GSE4573,OS", hr="HR=1.51   Cox _p_=0.04", box=(719, 1175, 968, 1283),
         xlim=(-5.6, 150.3), ticks=list(range(0, 141, 20)), labels=list(range(0, 141, 20)), xlabel="Months",
         axoff=7, lab_off=23, xl_off=52, letter_xy=(693, 1068), title_xy=(850, 1067), hr_xy=(844, 1103),
         km_xy=(844, 1144), leg_y=(1156, 1167), leg_x=(888, 898, 926), n=o_n,
         high=(o_high_t, o_high_s, o_high_end, o_high_cens, o_high_up, o_high_lo, o_high_end),
         low=(o_low_t, o_low_s, o_low_end, o_low_cens, o_low_up, o_low_lo, o_low_end)),
    dict(letter="P", title="LUSC, GSE4573,RFS", hr="HR=0.97   Cox  _p_=0.721", box=(1026, 1172, 1274, 1282),
         xlim=(-4.6, 118.6), ticks=list(range(0, 111, 10)), labels=list(range(0, 101, 20)), xlabel="Months",
         axoff=7, lab_off=25, xl_off=53, letter_xy=(1032, 1067), title_xy=(1172, 1067), hr_xy=(1165, 1103),
         km_xy=(1153, 1140), leg_y=(1152, 1165), leg_x=(1194, 1203, 1230), n=p_n,
         high=(p_high_t, p_high_s, p_high_end, p_high_cens, p_high_up, p_high_lo, p_high_end),
         low=(p_low_t, p_low_s, p_low_end, p_low_cens, p_low_up, p_low_lo, 59)),
]

for p in kmp_panels:
    kmp_panel(p)
for p in ps_panels:
    ps_panel(p)

# outer frame round the panels
fig.add_artist(Rectangle((fx(8), fy(1368)), 1342 / W, 1360 / H, transform=fig.transFigure,
                         fill=False, ec="#bbbbbb", lw=1))

for i, (line, wd) in enumerate(zip(caption, caption_widths)):
    rich(25, 1397 + 25 * i, line, 12.8, SANS, width=wd)

fig.savefig("out.png", dpi=100)
